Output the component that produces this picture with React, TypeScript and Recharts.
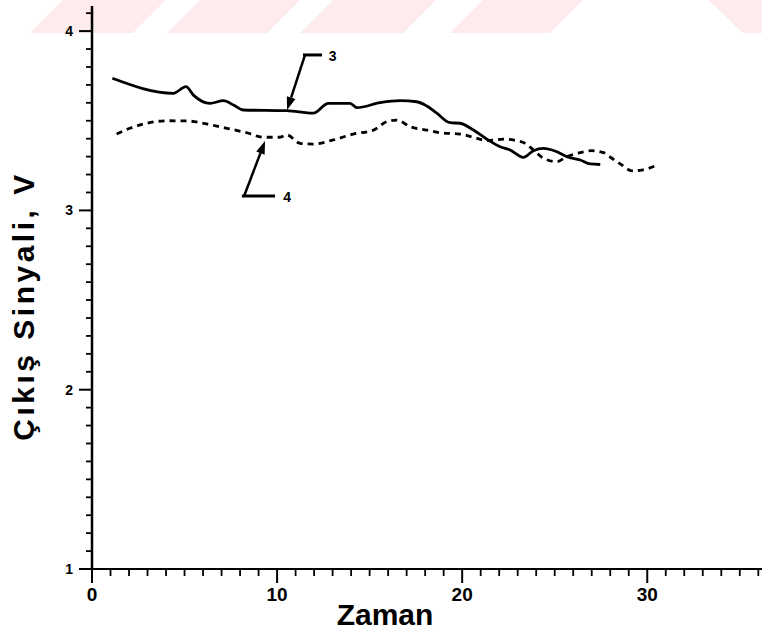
import React from "react";
import {
  LineChart,
  Line,
  XAxis,
  YAxis,
  ReferenceLine,
  ReferenceDot,
} from "recharts";

// curve 3 (solid)
const zaman3 = [
  1.1, 4.39, 5.08, 5.48, 6.38, 7.1, 7.64, 8.18, 10.52, 11.96, 12.77, 13.95,
  14.31, 15.57, 16.65, 17.55, 18.09, 18.63, 19.35, 19.89, 20.61, 21.34, 22.05,
  22.59, 23.31, 23.85, 24.39, 25.12, 25.66, 26.38, 26.92, 27.46,
];
const sinyal3 = [
  3.737, 3.653, 3.69, 3.643, 3.597, 3.612, 3.588, 3.56, 3.556, 3.542, 3.597,
  3.597, 3.573, 3.601, 3.612, 3.606, 3.582, 3.542, 3.489, 3.486, 3.448, 3.397,
  3.355, 3.337, 3.296, 3.333, 3.346, 3.327, 3.3, 3.281, 3.259, 3.256,
];

// curve 4 (dashed)
const zaman4 = [
  1.33, 2.05, 2.96, 4.04, 5.12, 6.2, 7.28, 8.36, 9.26, 10.16, 10.52, 11.24,
  11.96, 13.04, 14.12, 15.21, 15.93, 16.47, 17.19, 18.09, 18.81, 19.89, 20.61,
  21.34, 22.23, 22.96, 23.41, 23.85, 24.39, 25.12, 25.66, 26.38, 27.01, 27.64,
  28.09, 28.63, 29.17, 29.71, 30.43,
];
const sinyal4 = [
  3.426, 3.458, 3.486, 3.5, 3.499, 3.482, 3.458, 3.433, 3.408, 3.408, 3.421,
  3.374, 3.37, 3.393, 3.426, 3.448, 3.495, 3.504, 3.467, 3.448, 3.433, 3.426,
  3.408, 3.389, 3.397, 3.389, 3.374, 3.337, 3.291, 3.272, 3.3, 3.322, 3.333,
  3.322, 3.291, 3.253, 3.221, 3.225, 3.248,
];

const xMajor = [0, 10, 20, 30];
const yMajor = [1, 2, 3, 4];
const xTicks = Array.from({ length: 37 }, (_, i) => i);
const yTicks = Array.from({ length: 32 }, (_, i) => Math.round((1 + i * 0.1) * 10) / 10);

const line3 = zaman3.map((x, i) => ({ x, y: sinyal3[i] }));
const line4 = zaman4.map((x, i) => ({ x, y: sinyal4[i] }));

const FONT = "'Liberation Sans', Arial, sans-serif";

const XTick = ({ x, y, payload }: any) => {
  const major = xMajor.includes(payload.value);
  return (
    <g>
      <line x1={x} y1={y} x2={x} y2={y + (major ? 14 : 7)} stroke="#000" strokeWidth={major ? 2 : 1.8} />
      {major && (
        <text x={x} y={y + 32} textAnchor="middle" fontSize={19} fontWeight="bold" fontFamily={FONT} fill="#000">
          {payload.value}
        </text>
      )}
    </g>
  );
};

const YTick = ({ x, y, payload }: any) => {
  const major = yMajor.includes(payload.value);
  return (
    <g>
      <line x1={x} y1={y} x2={x - (major ? 13 : 6)} y2={y} stroke="#000" strokeWidth={major ? 2 : 1.8} />
      {major && (
        <text x={x - 19} y={y + 5} textAnchor="end" fontSize={14} fontWeight="bold" fontFamily={FONT} fill="#000">
          {payload.value}
        </text>
      )}
    </g>
  );
};

const Arrow = ({ x1, y1, x2, y2 }: any) => {
  const a = Math.atan2(y2 - y1, x2 - x1);
  const len = 13;
  const w = 4.5;
  const bx = x2 - len * Math.cos(a);
  const by = y2 - len * Math.sin(a);
  const px = -Math.sin(a) * w;
  const py = Math.cos(a) * w;
  return (
    <g>
      <line x1={x1} y1={y1} x2={bx} y2={by} stroke="#000" strokeWidth={2.5} />
      <polygon points={`${x2},${y2} ${bx + px},${by + py} ${bx - px},${by - py}`} fill="#000" />
    </g>
  );
};

const Num = (txt: string) => ({ cx, cy }: any) => (
  <text x={cx} y={cy + 5} textAnchor="middle" fontSize={14} fontWeight="bold" fontFamily={FONT} fill="#000">
    {txt}
  </text>
);

export default function App() {
  return (
    <div style={{ position: "absolute", left: 0, top: 0, width: 762, height: 632, background: "#fff" }}>
      <svg width={762} height={632} style={{ position: "absolute", left: 0, top: 0 }}>
        <g fill="#fdebee">
          <polygon points="30,33 63,0 166,0 133,33" />
          <polygon points="167,33 200,0 300,0 267,33" />
          <polygon points="300,33 333,0 436,0 403,33" />
          <polygon points="450,33 483,0 583,0 550,33" />
          <polygon points="743,33 708,0 762,0 762,33" />
        </g>
        <text
          x={34}
          y={306}
          transform="rotate(-90, 34, 306)"
          textAnchor="middle"
          fontSize={30}
          fontWeight="bold"
          letterSpacing={3.5}
          fontFamily={FONT}
          fill="#000"
        >
          Çıkış Sinyali, V
        </text>
        <text x={385} y={625} textAnchor="middle" fontSize={30} fontWeight="bold" fontFamily={FONT} fill="#000">
          Zaman
        </text>
      </svg>
      <div style={{ position: "absolute", left: 0, top: 0 }}>
        <LineChart width={762} height={632} margin={{ top: 6, right: 0, bottom: 0, left: 0 }}>
          <XAxis
            type="number"
            dataKey="x"
            domain={[0, 36.2]}
            ticks={xTicks}
            interval={0}
            tickSize={0}
            tickMargin={0}
            tickLine={false}
            tick={<XTick />}
            height={63}
            axisLine={{ stroke: "#000", strokeWidth: 2 }}
            allowDataOverflow
          />
          <YAxis
            type="number"
            dataKey="y"
            domain={[1, 4.14]}
            ticks={yTicks}
            interval={0}
            tickSize={0}
            tickMargin={0}
            tickLine={false}
            tick={<YTick />}
            width={92}
            axisLine={{ stroke: "#000", strokeWidth: 2.5 }}
            allowDataOverflow
          />
          <Line
            data={line3}
            dataKey="y"
            type="monotone"
            stroke="#000"
            strokeWidth={2.8}
            dot={false}
            isAnimationActive={false}
          />
          <Line
            data={line4}
            dataKey="y"
            type="monotone"
            stroke="#000"
            strokeWidth={2.8}
            strokeDasharray="6 5"
            dot={false}
            isAnimationActive={false}
          />
          <ReferenceLine segment={[{ x: 11.51, y: 3.867 }, { x: 10.54, y: 3.56 }]} shape={<Arrow />} />
          <ReferenceLine segment={[{ x: 11.4, y: 3.867 }, { x: 12.43, y: 3.867 }]} stroke="#000" strokeWidth={3} />
          <ReferenceDot x={13.0} y={3.86} shape={Num("3")} />
          <ReferenceLine segment={[{ x: 8.22, y: 3.08 }, { x: 9.35, y: 3.387 }]} shape={<Arrow />} />
          <ReferenceLine segment={[{ x: 8.1, y: 3.08 }, { x: 9.89, y: 3.08 }]} stroke="#000" strokeWidth={3} />
          <ReferenceDot x={10.54} y={3.075} shape={Num("4")} />
        </LineChart>
      </div>
    </div>
  );
}
